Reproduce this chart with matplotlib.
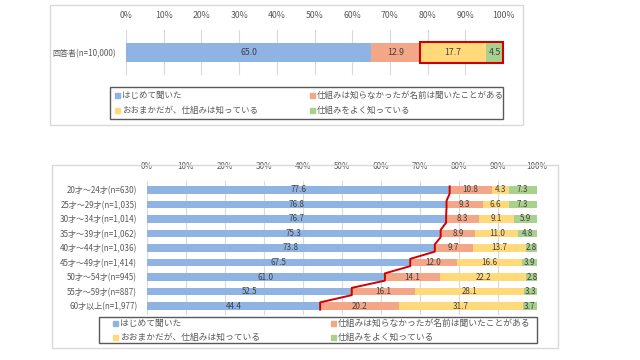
import numpy as np
import matplotlib
matplotlib.use("Agg")
import matplotlib.pyplot as plt
from matplotlib.patches import Rectangle

plt.rcParams['font.family'] = ['Noto Sans CJK JP', 'DejaVu Sans']

# --- data ---
series_names = ["はじめて聞いた", "仕組みは知らなかったが名前は聞いたことがある",
                "おおまかだが、仕組みは知っている", "仕組みをよく知っている"]
colors = ["#8FB4E3", "#F4A688", "#FFD97A", "#A9D18E"]

top_label = ["回答者(n=10,000)"]
top_values = [[65.0], [12.9], [17.7], [4.5]]

age_labels = ["20才～24才(n=630)", "25才～29才(n=1,035)", "30才～34才(n=1,014)",
              "35才～39才(n=1,062)", "40才～44才(n=1,036)", "45才～49才(n=1,414)",
              "50才～54才(n=945)", "55才～59才(n=887)", "60才以上(n=1,977)"]
first_heard = [77.6, 76.8, 76.7, 75.3, 73.8, 67.5, 61.0, 52.5, 44.4]
name_only = [10.8, 9.3, 8.3, 8.9, 9.7, 12.0, 14.1, 16.1, 20.2]
roughly = [4.3, 6.6, 9.1, 11.0, 13.7, 16.6, 22.2, 28.1, 31.7]
well_known = [7.3, 7.3, 5.9, 4.8, 2.8, 3.9, 2.8, 3.3, 3.7]

ticks = np.arange(0, 101, 10)
tick_labels = [f"{t}%" for t in ticks]

W, H = 640, 360
fig = plt.figure(figsize=(6.4, 3.6), dpi=100)
fig.patch.set_facecolor("white")

def px_axes(x0, y0, x1, y1):
    # pixel box (top-left origin) -> axes
    return fig.add_axes([x0 / W, 1 - y1 / H, (x1 - x0) / W, (y1 - y0) / H])

def px_rect(x0, y0, x1, y1, **kw):
    fig.patches.append(Rectangle((x0 / W, 1 - y1 / H), (x1 - x0) / W, (y1 - y0) / H,
                                 transform=fig.transFigure, fill=False, **kw))

def style_axes(ax, fs, yfs):
    ax.set_xlim(0, 100)
    ax.set_xticks(ticks)
    ax.set_xticklabels(tick_labels, fontsize=fs, color="#595959")
    ax.xaxis.tick_top()
    ax.tick_params(axis="x", length=0, pad=7)
    ax.tick_params(axis="y", length=0, pad=7, labelsize=yfs, labelcolor="#595959")
    for s in ax.spines.values():
        s.set_visible(False)
    ax.grid(axis="x", color="#D9D9D9", linewidth=0.8)
    ax.set_axisbelow(True)

def stacked(ax, vals, h, fs):
    left = np.zeros(len(vals[0]))
    y = np.arange(len(vals[0]))
    for v, c in zip(vals, colors):
        v = np.array(v)
        ax.barh(y, v, left=left, height=h, color=c, edgecolor="none")
        for yi, l, w in zip(y, left, v):
            ax.text(l + w / 2, yi, f"{w:.1f}", ha="center", va="center",
                    fontsize=fs, color="#404040")
        left = left + v

def legend(x_cols, y_rows, fs):
    k = 0
    for yr in y_rows:
        for xc in x_cols:
            fig.patches.append(Rectangle((xc / W, 1 - (yr + 2.5) / H), 5 / W, 5 / H,
                                         transform=fig.transFigure, color=colors[k]))
            fig.text((xc + 7) / W, 1 - yr / H, series_names[k], fontsize=fs,
                     color="#595959", va="center", ha="left")
            k += 1

# --- top panel ---
px_rect(50, 5, 523, 125, edgecolor="#D9D9D9", linewidth=1)
ax1 = px_axes(126, 30, 503, 75)
style_axes(ax1, 6.3, 5.8)
ax1.set_ylim(-1, 1)
ax1.set_yticks([0])
ax1.set_yticklabels(top_label)
h1 = 19 / 45 * 2
stacked(ax1, top_values, h1, 6.3)
x_start = top_values[0][0] + top_values[1][0]
ax1.add_patch(Rectangle((x_start, -h1 / 2 - 0.03), 100 - x_start, h1 + 0.06,
                        fill=False, edgecolor="#D00000", linewidth=1.5, zorder=5, clip_on=False))
px_rect(110, 87, 503, 119, edgecolor="#595959", linewidth=1)
legend([115, 310], [95, 110], 6.1)

# --- bottom panel ---
px_rect(52, 165, 558, 348, edgecolor="#D9D9D9", linewidth=1)
ax2 = px_axes(147, 181, 537, 315)
style_axes(ax2, 5.8, 5.8)
n = len(age_labels)
ax2.set_ylim(n - 1 + 0.62, -0.62)
ax2.set_yticks(np.arange(n))
ax2.set_yticklabels(age_labels)
h2 = 0.5
stacked(ax2, [first_heard, name_only, roughly, well_known], h2, 5.8)
line_x = np.repeat(first_heard, 2)
line_y = np.ravel([[i - h2 / 2, i + h2 / 2] for i in range(n)])
ax2.plot(line_x, line_y, color="#D00000", linewidth=1.4, zorder=5)
px_rect(99, 317, 537, 343, edgecolor="#595959", linewidth=1)
legend([113, 331], [323.5, 337], 6.3)

fig.savefig("out.png", dpi=100, facecolor="white")
